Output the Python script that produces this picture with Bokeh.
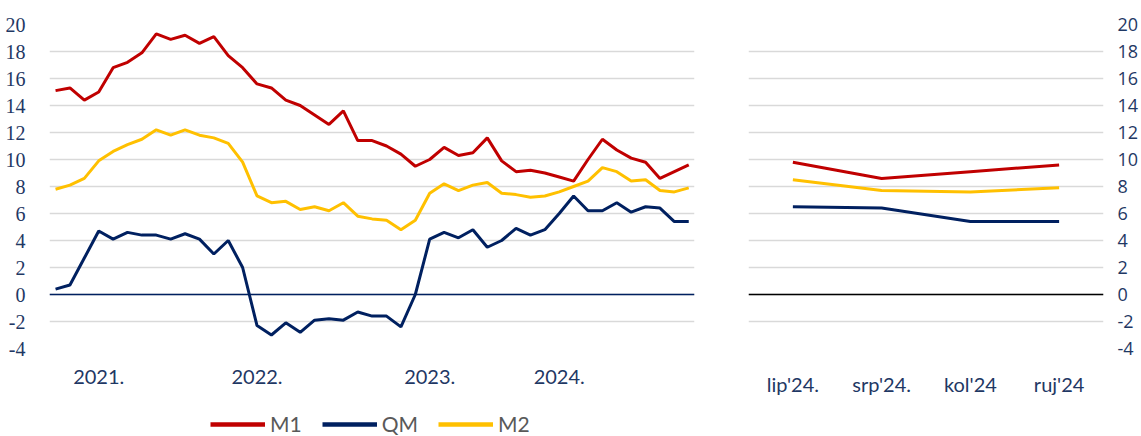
from bokeh.plotting import figure
from bokeh.models import Range1d, FixedTicker, Legend, LegendItem, Span, FactorRange
from bokeh.layouts import row, column
from bokeh.embed import file_html
from bokeh.resources import INLINE

# Monthly data, Jan 2021 - Sep 2024 (annual growth rates, %)
m1 = [15.1, 15.3, 14.4, 15.0, 16.8, 17.2, 17.9, 19.3, 18.9, 19.2, 18.6, 19.1,
      17.7, 16.8, 15.6, 15.3, 14.4, 14.0, 13.3, 12.6, 13.6, 11.4, 11.4, 11.0,
      10.4, 9.5, 10.0, 10.9, 10.3, 10.5, 11.6, 9.9, 9.1, 9.2, 9.0, 8.7,
      8.4, 10.0, 11.5, 10.7, 10.1, 9.8, 8.6, 9.1, 9.6]
qm = [0.4, 0.7, 2.7, 4.7, 4.1, 4.6, 4.4, 4.4, 4.1, 4.5, 4.1, 3.0,
      4.0, 2.0, -2.3, -3.0, -2.1, -2.8, -1.9, -1.8, -1.9, -1.3, -1.6, -1.6,
      -2.4, 0.0, 4.1, 4.6, 4.2, 4.8, 3.5, 4.0, 4.9, 4.4, 4.8, 6.0,
      7.3, 6.2, 6.2, 6.8, 6.1, 6.5, 6.4, 5.4, 5.4]
m2 = [7.8, 8.1, 8.6, 9.9, 10.6, 11.1, 11.5, 12.2, 11.8, 12.2, 11.8, 11.6,
      11.2, 9.8, 7.3, 6.8, 6.9, 6.3, 6.5, 6.2, 6.8, 5.8, 5.6, 5.5,
      4.8, 5.5, 7.5, 8.2, 7.7, 8.1, 8.3, 7.5, 7.4, 7.2, 7.3, 7.6,
      8.0, 8.4, 9.4, 9.1, 8.4, 8.5, 7.7, 7.6, 7.9]
series_names = ["M1", "QM", "M2"]
year_labels = ["2021.", "2022.", "2023.", "2024."]
year_tick_pos = [3, 14, 26, 35]
recent_months = ["lip'24.", "srp'24.", "kol'24", "ruj'24"]
y_ticks = list(range(-4, 21, 2))
y_tick_labels = [str(t) for t in y_ticks]  # plain hyphen-minus as in the original

RED = "#C00000"
NAVY = "#002060"
YEL = "#FFC000"
LBL = "#1F3864"
GRID = "#D9D9D9"
colors = [RED, NAVY, YEL]

x_idx = list(range(len(m1)))


def style_axes(p):
    p.outline_line_color = None
    p.xgrid.grid_line_color = None
    p.ygrid.grid_line_color = GRID
    p.ygrid.grid_line_width = 1.7
    p.yaxis.ticker = FixedTicker(ticks=y_ticks)
    p.yaxis.major_label_overrides = {t: s for t, s in zip(y_ticks, y_tick_labels)}
    for ax in (p.xaxis, p.yaxis):
        ax.axis_line_color = None
        ax.major_tick_line_color = None
        ax.minor_tick_line_color = None
        ax.major_label_text_color = LBL


# ---------- left chart ----------
left = figure(width=720, height=410, output_backend="svg", toolbar_location=None,
              x_range=Range1d(-0.42, 44.4), y_range=Range1d(-4, 20),
              min_border_left=49, min_border_right=26, min_border_top=23,
              min_border_bottom=60)
style_axes(left)
left.xaxis.ticker = FixedTicker(ticks=year_tick_pos)
left.xaxis.major_label_overrides = {p: l for p, l in zip(year_tick_pos, year_labels)}
left.yaxis.major_label_text_font = "Liberation Serif"
left.yaxis.major_label_text_font_size = "20px"
left.yaxis.major_label_standoff = 18
left.xaxis.major_label_text_font = "Lato"
left.xaxis.major_label_text_font_size = "20px"
left.xaxis.major_label_standoff = 15

left.add_layout(Span(location=0, dimension="width", line_color=NAVY, line_width=1.5))
for ser, col in zip([m1, qm, m2], colors):
    left.line(x_idx, ser, line_color=col, line_width=3)

# ---------- right chart ----------
right = figure(width=421, height=410, output_backend="svg", toolbar_location=None,
               x_range=FactorRange(factors=recent_months, range_padding=0),
               y_range=Range1d(-4, 20), y_axis_location="right",
               min_border_left=28, min_border_right=32, min_border_top=24,
               min_border_bottom=62)
style_axes(right)
right.yaxis.major_label_text_font = "Open Sans"
right.yaxis.major_label_text_font_size = "18px"
right.yaxis.major_label_standoff = 8
right.xaxis.major_label_text_font = "Lato"
right.xaxis.major_label_text_font_size = "20px"
right.xaxis.major_label_standoff = 17

right.add_layout(Span(location=0, dimension="width", line_color="black", line_width=1.5))
for ser, col in zip([m1, qm, m2], colors):
    right.line(recent_months, ser[-4:], line_color=col, line_width=3)

# ---------- legend strip ----------
leg = figure(width=720, height=26, output_backend="svg", toolbar_location=None,
             x_range=Range1d(0, 1), y_range=Range1d(100, 101),
             min_border=0)
leg.axis.visible = False
leg.grid.visible = False
leg.outline_line_color = None
items = []
for name, ser, col in zip(series_names, [m1, qm, m2], colors):
    r = leg.line(x_idx, ser, line_color=col, line_width=4.5)
    items.append(LegendItem(label=name, renderers=[r]))
legend = Legend(items=items, orientation="horizontal", location=(210, 0),
                glyph_width=55, glyph_height=20, label_standoff=5, spacing=20,
                label_text_font="Lato", label_text_font_size="21px",
                label_text_color="#595959", border_line_alpha=0,
                background_fill_alpha=0, padding=0, margin=0)
leg.add_layout(legend)

layout = column(row(left, right), leg)
open("out.html", "w").write(file_html(layout, INLINE))
